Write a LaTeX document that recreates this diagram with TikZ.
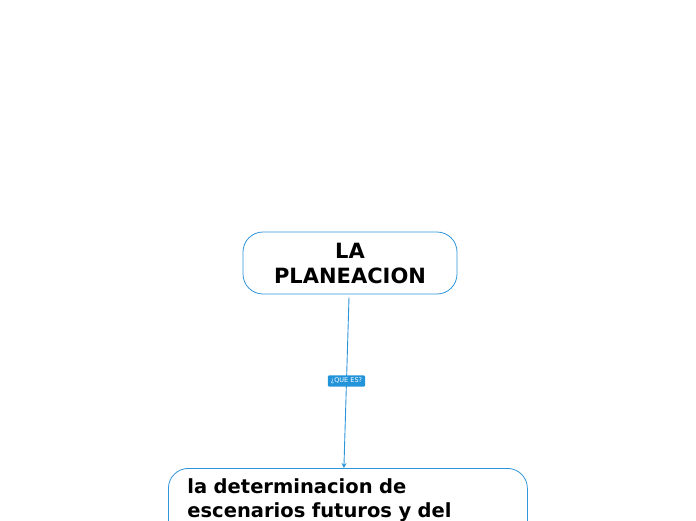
\documentclass[tikz,border=0pt]{standalone}
\usepackage{fontspec}
\setmainfont{DejaVu Sans}
\usepackage{xcolor}
\usetikzlibrary{arrows.meta}
\definecolor{LineBlue}{HTML}{2E95DA}
\definecolor{TagBlue}{HTML}{2494DA}
\definecolor{TextDark}{HTML}{000000}

\begin{document}
\begin{tikzpicture}[
	x=1pt, y=-1pt,
	main node/.style={
		rectangle,
		rounded corners=20pt,
		draw=LineBlue,
		fill=white,
		text=TextDark,
		line width=0.8pt,
		font=\fontsize{21}{25}\selectfont\bfseries
	},
	% Label on the connector
	tag/.style={
		fill=TagBlue,
		text=white,
		rounded corners=1pt,
		inner xsep=3pt,
		inner ysep=2.5pt,
		font=\fontsize{6.5}{7}\selectfont
	},
	% Directed edge style
	edge/.style={
		draw=LineBlue,
		line width=0.9pt,
		-{Stealth[length=5pt,width=5pt]}
	}
	]
	
	\useasboundingbox (0,0) rectangle (696,520);
	
	% ================= NODES =================
	\node[main node, minimum width=214pt, minimum height=62pt, align=center] (plan) at (350,263) {LA\\PLANEACION};
	
	\node[main node, anchor=north west, text width=321pt, align=left,
		font=\fontsize{19.5}{24}\selectfont\bfseries,
		inner xsep=19pt, inner ysep=0pt, text height=25pt, text depth=80pt] (def) at (168,468)
		{la determinacion de\\escenarios futuros y del};
	
	% ================= EDGES =================
	\draw[edge] ([xshift=-1pt,yshift=-3pt]plan.south) -- node[tag, pos=0.49] {¿QUE ES?} ([xshift=-4pt]def.north);
	
\end{tikzpicture}
\end{document}
